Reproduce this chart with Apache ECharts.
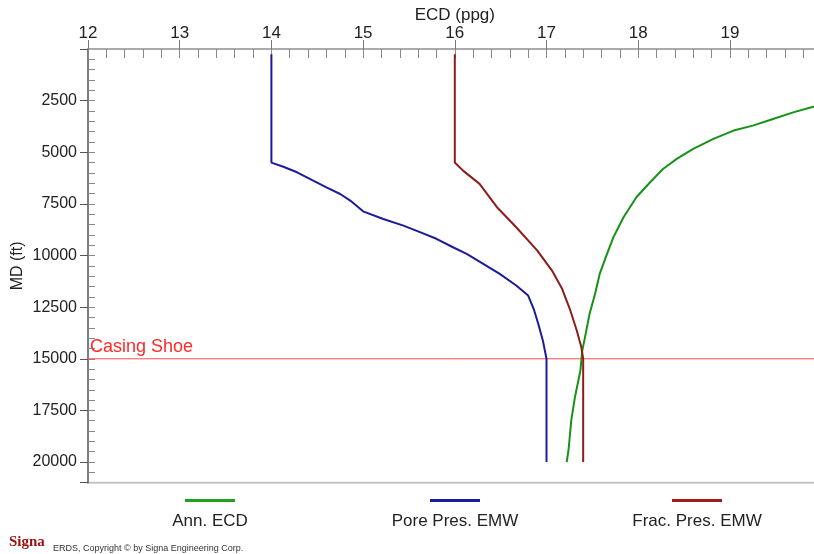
<!DOCTYPE html>
<html><head><meta charset="utf-8">
<script src="https://cdn.jsdelivr.net/npm/echarts@6/dist/echarts.min.js"></script>
<style>html,body{margin:0;padding:0;background:#fff}#c{width:814px;height:554px}</style>
</head><body><div id="c"></div>
<script>
// ---- data ----
const xTickValues = [12, 13, 14, 15, 16, 17, 18, 19];
const depthTickLabels = [2500, 5000, 7500, 10000, 12500, 15000, 17500, 20000];
const seriesNames = ['Ann. ECD', 'Pore Pres. EMW', 'Frac. Pres. EMW'];

const ecdDepth = [2450, 2800, 3070, 3390, 3710, 3950, 4350, 4840, 5320, 5810, 6450, 7180, 8150, 9110, 9920, 10890, 11850, 12820, 13950, 14600, 15560, 16860, 17980, 19430, 20000];
const ecdValue = [20.2, 19.91, 19.69, 19.47, 19.25, 19.04, 18.82, 18.60, 18.42, 18.27, 18.13, 17.98, 17.84, 17.73, 17.66, 17.58, 17.53, 17.47, 17.42, 17.39, 17.37, 17.31, 17.27, 17.24, 17.22];

const poreDepth = [250, 5500, 5700, 5970, 6340, 6700, 7020, 7340, 7860, 8230, 8550, 8870, 9190, 9600, 9920, 10400, 10890, 11450, 11940, 12580, 13300, 14110, 15000, 20000];
const poreValue = [14.0, 14.0, 14.13, 14.28, 14.44, 14.60, 14.75, 14.86, 15.00, 15.22, 15.44, 15.62, 15.80, 15.98, 16.13, 16.31, 16.49, 16.67, 16.80, 16.86, 16.91, 16.96, 17.0, 17.0];

const fracDepth = [250, 5500, 5890, 6530, 7660, 8630, 9760, 10730, 11610, 12660, 13630, 14440, 15000, 20000];
const fracValue = [16.0, 16.0, 16.09, 16.27, 16.46, 16.67, 16.90, 17.06, 17.17, 17.26, 17.33, 17.38, 17.40, 17.40];

const casingShoeDepth = 15000;
const casingShoeLabel = 'Casing Shoe';

// ---- chart ----
const pair = (vals, deps) => vals.map((v, i) => [v, deps[i]]);
const colors = ['#169216', '#1c1c98', '#8e1c1c'];
const legendColors = ['#22a022', '#1a1aa6', '#a01c1c'];
const FONT = 'Liberation Sans, Arial, sans-serif';

const chart = echarts.init(document.getElementById('c'));
const X_MIN = 12, X_MAX = 20, Y_MIN = 0, Y_MAX = 21000;
const GL = 88, GT = 49, PXU = 91.7, GH = 433.7;
const GW = (X_MAX - X_MIN) * PXU;

const legendLefts = [185, 430, 672];
const legendCenters = [210, 455, 697];

const isMajorX = v => xTickValues.indexOf(Math.round(v * 1000) / 1000) >= 0;

chart.setOption({
  animation: false,
  backgroundColor: '#fff',
  grid: { left: GL, top: GT, width: GW, height: GH, show: true, borderColor: '#c4c4c4', borderWidth: 2, backgroundColor: 'transparent',
    containLabel: false, outerBoundsMode: 'none' },
  xAxis: [
    { type: 'value', position: 'top', min: X_MIN, max: X_MAX, interval: 0.2,
      axisLine: { show: true, onZero: false, lineStyle: { color: '#aaaaaa', width: 2 } },
      axisTick: { show: true, inside: true, length: 9, lineStyle: { color: '#888', width: 1 } },
      axisLabel: { fontSize: 17, color: '#222', margin: 7, fontFamily: FONT, showMaxLabel: false,
        formatter: v => isMajorX(v) ? String(Math.round(v)) : '' },
      splitLine: { show: false },
      name: 'ECD (ppg)', nameLocation: 'middle', nameGap: 25, nameMoveOverlap: false,
      nameTextStyle: { fontSize: 17, color: '#222', fontFamily: FONT } },
    { type: 'value', position: 'bottom', offset: -GH, min: X_MIN, max: X_MAX, interval: 1,
      axisLine: { show: false, onZero: false },
      axisTick: { show: true, inside: true, length: 9, lineStyle: { color: '#777', width: 1 } },
      axisLabel: { show: false }, splitLine: { show: false } }
  ],
  yAxis: [
    { type: 'value', position: 'left', inverse: true, min: Y_MIN, max: Y_MAX, interval: 500,
      axisLine: { show: true, onZero: false, lineStyle: { color: '#666', width: 1.5 } },
      axisTick: { show: true, inside: true, length: 7, lineStyle: { color: '#888', width: 1 } },
      axisLabel: { fontSize: 16, color: '#222', margin: 11, fontFamily: FONT, showMinLabel: false, showMaxLabel: false,
        formatter: v => depthTickLabels.indexOf(Math.round(v)) >= 0 ? String(Math.round(v)) : '' },
      splitLine: { show: false },
      name: 'MD (ft)', nameLocation: 'middle', nameGap: 62, nameRotate: 90, nameMoveOverlap: false,
      nameTextStyle: { fontSize: 16, color: '#222', fontFamily: FONT } },
    { type: 'value', position: 'right', offset: -GW, inverse: true, min: Y_MIN, max: Y_MAX, interval: 2500,
      axisLine: { show: false, onZero: false },
      axisTick: { show: true, inside: true, length: 8, lineStyle: { color: '#555', width: 1 } },
      axisLabel: { show: false }, splitLine: { show: false } }
  ],
  legend: seriesNames.map((n, i) => ({
    data: [n], left: legendLefts[i], top: 499, padding: 0, icon: 'rect', itemWidth: 50, itemHeight: 3,
    formatter: () => '', selectedMode: false, textStyle: { fontSize: 1 },
    itemStyle: { color: legendColors[i] }
  })),
  series: [
    { name: 'casing', type: 'line', data: [
        { value: [X_MIN, casingShoeDepth], label: { show: true, formatter: casingShoeLabel, position: 'top', align: 'left',
          offset: [2, 0], distance: 2, color: '#ff2a2a', fontSize: 18, fontFamily: FONT } },
        { value: [X_MAX, casingShoeDepth] }],
      symbol: 'circle', symbolSize: 1, showSymbol: true, silent: true,
      lineStyle: { color: '#ff4a4a', width: 1 }, itemStyle: { color: 'rgba(255,74,74,0)' }, z: 2 },
    { name: seriesNames[0], type: 'line', data: pair(ecdValue, ecdDepth), symbol: 'none', smooth: false,
      lineStyle: { color: colors[0], width: 2 }, itemStyle: { color: colors[0] }, clip: true, z: 3 },
    { name: seriesNames[1], type: 'line', data: pair(poreValue, poreDepth), symbol: 'none',
      lineStyle: { color: colors[1], width: 2 }, itemStyle: { color: colors[1] }, clip: true, z: 3 },
    { name: seriesNames[2], type: 'line', data: pair(fracValue, fracDepth), symbol: 'none',
      lineStyle: { color: colors[2], width: 2 }, itemStyle: { color: colors[2] }, clip: true, z: 3 }
  ],
  graphic: [
    ...seriesNames.map((n, i) => ({ type: 'text', x: legendCenters[i], y: 513, silent: true,
      style: { text: n, fontSize: 17, fill: '#222', fontFamily: FONT, align: 'center', verticalAlign: 'top' } })),
    { type: 'text', x: 9, y: 535, silent: true,
      style: { text: 'Signa', fontSize: 15, fontWeight: 'bold', fill: '#9a1010', fontFamily: 'Liberation Serif, serif' } },
    { type: 'text', x: 53, y: 544, silent: true,
      style: { text: 'ERDS, Copyright \u00a9 by Signa Engineering Corp.', fontSize: 9, fill: '#333', fontFamily: FONT } }
  ]
});
</script>
</body></html>
